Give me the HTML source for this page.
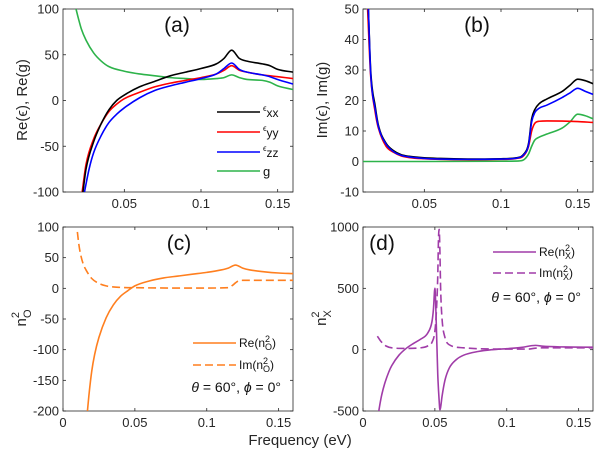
<!DOCTYPE html>
<html><head><meta charset="utf-8">
<style>
html,body{margin:0;padding:0;background:#fff;}
svg{display:block;font-family:"Liberation Sans",Arial,sans-serif;}
</style></head>
<body>
<svg id="fig" width="600" height="458" viewBox="0 0 600 458" xmlns="http://www.w3.org/2000/svg">
</svg>
<script>
// ---- Panel (a) data: Re(eps), Re(g) ----
const aXX_x = [0.023,0.025,0.03,0.035,0.04,0.045,0.05,0.06,0.07,0.08,0.09,0.1,0.11,0.115,0.12,0.125,0.13,0.14,0.145,0.15,0.16];
const aXX_y = [-100,-75,-45,-25,-10,0,6,15,21,27,31,35,40,46,55,46,43,40,38,34,31];
const aYY_x = [0.0225,0.025,0.03,0.035,0.04,0.045,0.05,0.06,0.07,0.08,0.09,0.1,0.11,0.115,0.12,0.125,0.13,0.14,0.145,0.15,0.16];
const aYY_y = [-100,-70,-42,-25,-12,-4,2,9,15,19,22,25,29,33,38,33,31,28,27,26,24];
const aZZ_x = [0.024,0.027,0.03,0.035,0.04,0.045,0.05,0.06,0.07,0.08,0.09,0.1,0.11,0.115,0.12,0.125,0.13,0.14,0.145,0.15,0.16];
const aZZ_y = [-100,-75,-57,-38,-24,-15,-8,3,11,16,20,24,29,35,41,34,31,28,26,23,18];
const aG_x = [0.0185,0.02,0.022,0.025,0.03,0.035,0.04,0.05,0.06,0.07,0.08,0.09,0.1,0.11,0.115,0.12,0.125,0.13,0.14,0.145,0.15,0.16];
const aG_y = [100,90,78,66,52,43,37,32,29,27,25,24,23,24,25,28,25,23,22,20,16,12];
// ---- Panel (b) data: Im(eps), Im(g) ----
const bXX_x = [0.0135,0.015,0.018,0.02,0.025,0.03,0.035,0.04,0.05,0.06,0.08,0.1,0.11,0.115,0.118,0.12,0.122,0.125,0.13,0.14,0.145,0.15,0.155,0.16];
const bXX_y = [50,30,18,12,6,3.5,2.2,1.7,1.2,1,0.8,0.9,1.2,2.5,6,14,17,19,20.5,23,25,27,26.5,25.5];
const bZZ_x = [0.0135,0.015,0.018,0.02,0.025,0.03,0.035,0.04,0.05,0.06,0.08,0.1,0.11,0.115,0.118,0.12,0.122,0.125,0.13,0.14,0.145,0.15,0.155,0.16];
const bZZ_y = [50,29,17,11.5,5.7,3.2,2,1.5,1,0.8,0.7,0.8,1.1,2.3,5.5,13,16,17.5,18.5,21,22.5,24,23,22];
const bYY_x = [0.013,0.015,0.018,0.02,0.025,0.03,0.035,0.04,0.05,0.06,0.08,0.1,0.11,0.115,0.118,0.12,0.122,0.125,0.13,0.15,0.16];
const bYY_y = [50,28,16,11,5,3,1.8,1.3,0.9,0.7,0.6,0.7,1,2,5,10,12.5,13.2,13.3,13.1,12.8];
const bG_x = [0.01,0.05,0.1,0.112,0.115,0.118,0.12,0.122,0.125,0.13,0.14,0.145,0.15,0.155,0.16];
const bG_y = [0,0,0.1,0.2,0.6,2.5,5,7,8,9,11,13,15.5,15,14];
// ---- Panel (c) data: n_O^2 ----
const cRe_x = [0.017,0.018,0.02,0.022,0.025,0.03,0.035,0.04,0.045,0.05,0.06,0.07,0.08,0.09,0.1,0.11,0.115,0.12,0.125,0.13,0.14,0.15,0.16];
const cRe_y = [-200,-175,-135,-108,-80,-48,-27,-13,-4,4,12,17,20,23,26,30,33,38,33,30,27,25,24];
const cIm_x = [0.01,0.011,0.012,0.014,0.016,0.02,0.025,0.03,0.04,0.05,0.08,0.1,0.115,0.118,0.12,0.122,0.125,0.16];
const cIm_y = [92,72,58,40,30,16,8,4,1.5,1,0.5,0.5,1,5,9,12,13,13];
// ---- Panel (d) data: n_X^2 ----
const dRe_x = [0.011,0.012,0.013,0.015,0.018,0.02,0.025,0.03,0.035,0.04,0.045,0.048,0.049,0.05,0.0505,0.051,0.0515,0.052,0.053,0.0535,0.054,0.055,0.057,0.06,0.065,0.07,0.08,0.09,0.1,0.11,0.12,0.125,0.14,0.16];
const dRe_y = [-500,-430,-370,-280,-180,-130,-45,10,50,85,135,230,330,500,400,200,0,-200,-420,-490,-470,-380,-250,-150,-80,-45,-15,0,8,18,35,28,22,20];
const dIm_x = [0.01,0.012,0.014,0.016,0.02,0.03,0.04,0.045,0.048,0.05,0.051,0.052,0.0525,0.053,0.0535,0.054,0.055,0.057,0.06,0.07,0.08,0.1,0.115,0.12,0.125,0.16];
const dIm_y = [110,75,48,30,15,10,15,30,60,150,300,600,900,980,800,500,250,100,40,15,8,5,5,12,15,15];

// ---- tick labels ----
const aYticks = [-100,-50,0,50,100];
const bYticks = [-10,0,10,20,30,40,50];
const cYticks = [-200,-150,-100,-50,0,50,100];
const dYticks = [-500,0,500,1000];
const abXticks = [0.05,0.1,0.15];
const cdXticks = [0,0.05,0.1,0.15];

const NS = "http://www.w3.org/2000/svg";
const svg = document.getElementById('fig');
function el(tag, attrs, parent) {
  const e = document.createElementNS(NS, tag);
  for (const k in attrs) e.setAttribute(k, attrs[k]);
  (parent || svg).appendChild(e);
  return e;
}
function makeAxis(L, T, R, B, x0, x1, y0, y1) {
  return {
    sx: v => L + (v - x0) / (x1 - x0) * (R - L),
    sy: v => B - (v - y0) / (y1 - y0) * (B - T),
    L, T, R, B
  };
}
function panel(name, ax, xt, yt) {
  const g = el('g', {});
  
  
  const clipId = 'clip-' + name;
  const cp = el('clipPath', {id: clipId}, g);
  el('rect', {x: ax.L, y: ax.T, width: ax.R - ax.L, height: ax.B - ax.T}, cp);
  const box = el('rect', {x: ax.L, y: ax.T, width: ax.R - ax.L, height: ax.B - ax.T, fill: 'none', stroke: '#262626', 'stroke-width': 0.8}, g);
  
  
  xt.forEach(v => {
    const x = ax.sx(v);
    el('line', {x1: x, x2: x, y1: ax.B, y2: ax.B - 3, stroke: '#262626', 'stroke-width': 0.8}, g);
    el('line', {x1: x, x2: x, y1: ax.T, y2: ax.T + 3, stroke: '#262626', 'stroke-width': 0.8}, g);
    const t = el('text', {x: x, y: ax.B + 16, 'font-size': 13, fill: '#262626', 'text-anchor': 'middle'}, g);
    t.textContent = String(v);
    
    
  });
  yt.forEach(v => {
    const y = ax.sy(v);
    el('line', {x1: ax.L, x2: ax.L + 3, y1: y, y2: y, stroke: '#262626', 'stroke-width': 0.8}, g);
    el('line', {x1: ax.R, x2: ax.R - 3, y1: y, y2: y, stroke: '#262626', 'stroke-width': 0.8}, g);
    const t = el('text', {x: ax.L - 4, y: y + 4.5, 'font-size': 13, fill: '#262626', 'text-anchor': 'end'}, g);
    t.textContent = String(v);
    
    
  });
  const plot = el('g', {'clip-path': 'url(#' + clipId + ')'}, g);
  return plot;
}
// monotone cubic path through pixel points
function monoPath(P) {
  const n = P.length;
  if (n < 3) return P.map((p, i) => (i ? 'L' : 'M') + p[0] + ',' + p[1]).join('');
  const d = [], m = new Array(n);
  for (let i = 0; i < n - 1; i++) d.push((P[i+1][1] - P[i][1]) / ((P[i+1][0] - P[i][0]) || 1e-6));
  m[0] = d[0]; m[n-1] = d[n-2];
  for (let i = 1; i < n - 1; i++) m[i] = (d[i-1] * d[i] <= 0) ? 0 : (d[i-1] + d[i]) / 2;
  for (let i = 0; i < n - 1; i++) {
    if (d[i] === 0) { m[i] = 0; m[i+1] = 0; continue; }
    const a = m[i] / d[i], b = m[i+1] / d[i], s = a*a + b*b;
    if (s > 9) { const t = 3 / Math.sqrt(s); m[i] = t*a*d[i]; m[i+1] = t*b*d[i]; }
  }
  let s = 'M' + P[0][0].toFixed(2) + ',' + P[0][1].toFixed(2);
  for (let i = 0; i < n - 1; i++) {
    const h = (P[i+1][0] - P[i][0]) / 3;
    s += 'C' + (P[i][0] + h).toFixed(2) + ',' + (P[i][1] + m[i]*h).toFixed(2) + ' ' +
         (P[i+1][0] - h).toFixed(2) + ',' + (P[i+1][1] - m[i+1]*h).toFixed(2) + ' ' +
         P[i+1][0].toFixed(2) + ',' + P[i+1][1].toFixed(2);
  }
  return s;
}
function series(parent, ax, xs, ys, color, dash, name) {
  const pts = xs.map((x, i) => [ax.sx(x), ax.sy(ys[i])]);
  const p = el('path', {d: monoPath(pts), fill: 'none', stroke: color, 'stroke-width': 1.6, 'stroke-linejoin': 'round'}, parent);
  if (dash) p.setAttribute('stroke-dasharray', dash);
  
  
}
function text(x, y, html, size, anchor, name, extra) {
  const t = el('text', Object.assign({x: x, y: y, 'font-size': size, fill: '#111', 'text-anchor': anchor || 'start'}, extra || {}));
  t.innerHTML = html;
  
  
  return t;
}

const axA = makeAxis(63, 9, 293, 192, 0.01, 0.16, -100, 100);
const axB = makeAxis(363, 9, 593, 192, 0.01, 0.16, -10, 50);
const axC = makeAxis(63, 227, 293, 411, 0, 0.16, -200, 100);
const axD = makeAxis(363, 227, 593, 411, 0, 0.16, -500, 1000);

const pA = panel('panel-a', axA, abXticks, aYticks);
series(pA, axA, aG_x, aG_y, '#2db34a', null, 'line-g');
series(pA, axA, aYY_x, aYY_y, '#ff0000', null, 'line-eps-yy');
series(pA, axA, aZZ_x, aZZ_y, '#0000ff', null, 'line-eps-zz');
series(pA, axA, aXX_x, aXX_y, '#000000', null, 'line-eps-xx');

const pB = panel('panel-b', axB, abXticks, bYticks);
series(pB, axB, bG_x, bG_y, '#2db34a', null, 'line-im-g');
series(pB, axB, bYY_x, bYY_y, '#ff0000', null, 'line-im-eps-yy');
series(pB, axB, bXX_x, bXX_y, '#000000', null, 'line-im-eps-xx');
series(pB, axB, bZZ_x, bZZ_y, '#0000ff', null, 'line-im-eps-zz');

const pC = panel('panel-c', axC, cdXticks, cYticks);
series(pC, axC, cRe_x, cRe_y, '#ff7f1f', null, 'line-re-no2');
series(pC, axC, cIm_x, cIm_y, '#ff7f1f', '8,4', 'line-im-no2');

const pD = panel('panel-d', axD, cdXticks, dYticks);
series(pD, axD, dRe_x, dRe_y, '#a03ca8', null, 'line-re-nx2');
series(pD, axD, dIm_x, dIm_y, '#a03ca8', '8,4', 'line-im-nx2');

// panel letters
text(177, 32, '(a)', 21, 'middle', 'panel-label-a');
text(477, 32, '(b)', 21, 'middle', 'panel-label-b');
text(179, 250, '(c)', 21, 'middle', 'panel-label-c');
text(382, 250, '(d)', 21, 'middle', 'panel-label-d');

// y-axis titles
text(0, 0, 'Re(ϵ), Re(g)', 15, 'middle', 'y-axis-title-a', {transform: 'translate(27,100) rotate(-90)', fill: '#262626'});
text(0, 0, 'Im(ϵ), Im(g)', 15, 'middle', 'y-axis-title-b', {transform: 'translate(327,100) rotate(-90)', fill: '#262626'});
text(0, 0, 'n<tspan font-size="11" dy="-7">2</tspan><tspan font-size="11" dx="-6" dy="12">O</tspan>', 15, 'middle', 'y-axis-title-c', {transform: 'translate(26,318) rotate(-90)', fill: '#262626'});
text(0, 0, 'n<tspan font-size="11" dy="-7">2</tspan><tspan font-size="11" dx="-6" dy="12">X</tspan>', 15, 'middle', 'y-axis-title-d', {transform: 'translate(326,318) rotate(-90)', fill: '#262626'});

// x-axis title
text(300, 445, 'Frequency (eV)', 15, 'middle', 'x-axis-title', {fill: '#262626'});

// legend (a)
const legA = [['#000000','xx',112],['#ff0000','yy',132],['#0000ff','zz',152]];
legA.forEach(l => {
  const ln = el('line', {x1: 217, x2: 260, y1: l[2], y2: l[2], stroke: l[0], 'stroke-width': 1.6});
  
  
  text(263, l[2] - 1, '<tspan font-size="8">ϵ</tspan><tspan font-size="12" dy="6">' + l[1] + '</tspan>', 12, 'start', 'legend-entry-eps-' + l[1]);
});
const lg = el('line', {x1: 217, x2: 260, y1: 171, y2: 171, stroke: '#2db34a', 'stroke-width': 1.6});


text(263, 176, 'g', 13, 'start', 'legend-entry-g');

// legend (c)
const lc1 = el('line', {x1: 193, x2: 236, y1: 343, y2: 343, stroke: '#ff7f1f', 'stroke-width': 1.6});


const lc2 = el('line', {x1: 193, x2: 236, y1: 365, y2: 365, stroke: '#ff7f1f', 'stroke-width': 1.6, 'stroke-dasharray': '8,4'});


text(239, 347, 'Re(n<tspan font-size="9" dy="-5">2</tspan><tspan font-size="9" dx="-5" dy="8">O</tspan><tspan dy="-3">)</tspan>', 12, 'start', 'legend-entry-re-no2');
text(239, 369, 'Im(n<tspan font-size="9" dy="-5">2</tspan><tspan font-size="9" dx="-5" dy="8">O</tspan><tspan dy="-3">)</tspan>', 12, 'start', 'legend-entry-im-no2');
text(281, 392, '<tspan font-style="italic">θ</tspan> = 60°, <tspan font-style="italic">ϕ</tspan> = 0°', 14, 'end', 'angle-annotation-c');

// legend (d)
const ld1 = el('line', {x1: 493, x2: 536, y1: 252, y2: 252, stroke: '#a03ca8', 'stroke-width': 1.6});


const ld2 = el('line', {x1: 493, x2: 536, y1: 273, y2: 273, stroke: '#a03ca8', 'stroke-width': 1.6, 'stroke-dasharray': '8,4'});


text(539, 256, 'Re(n<tspan font-size="9" dy="-5">2</tspan><tspan font-size="9" dx="-5" dy="8">X</tspan><tspan dy="-3">)</tspan>', 12, 'start', 'legend-entry-re-nx2');
text(539, 277, 'Im(n<tspan font-size="9" dy="-5">2</tspan><tspan font-size="9" dx="-5" dy="8">X</tspan><tspan dy="-3">)</tspan>', 12, 'start', 'legend-entry-im-nx2');
text(581, 302, '<tspan font-style="italic">θ</tspan> = 60°, <tspan font-style="italic">ϕ</tspan> = 0°', 14, 'end', 'angle-annotation-d');
</script>
</body></html>
